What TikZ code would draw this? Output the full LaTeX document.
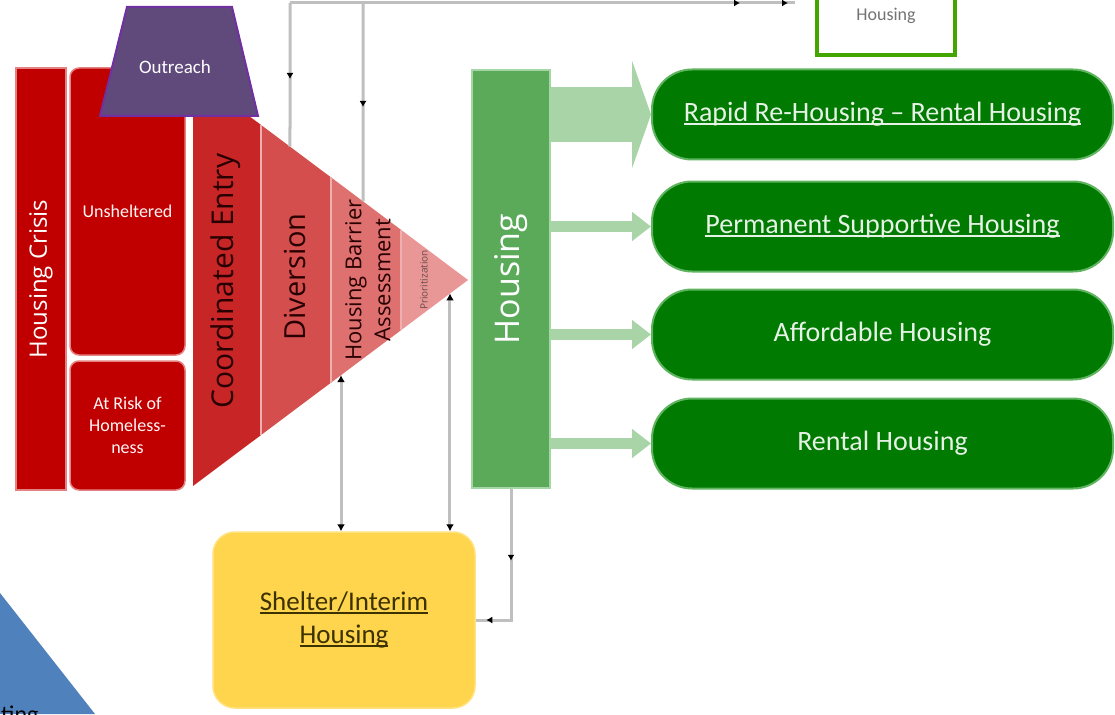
\documentclass[tikz,border=0pt]{standalone}
\usepackage{fontspec}
\setmainfont{Carlito}
\newfontfamily\osans{Open Sans}
\usetikzlibrary{arrows.meta,calc,decorations.markings}
\definecolor{cred}{RGB}{192,0,0}
\definecolor{credb}{RGB}{228,130,130}
\definecolor{ceband}{RGB}{200,38,38}
\definecolor{divband}{RGB}{212,78,78}
\definecolor{hbaband}{RGB}{222,112,112}
\definecolor{priband}{RGB}{233,150,150}
\definecolor{bandsep}{RGB}{240,175,175}
\definecolor{cpurple}{RGB}{96,74,123}
\definecolor{cpurpled}{RGB}{112,48,160}
\definecolor{hgreen}{RGB}{90,170,90}
\definecolor{hgreenb}{RGB}{165,214,165}
\definecolor{agreen}{RGB}{168,212,168}
\definecolor{pill}{RGB}{0,122,0}
\definecolor{pillb}{RGB}{95,180,95}
\definecolor{pilltext}{RGB}{230,242,230}
\definecolor{shel}{RGB}{255,213,77}
\definecolor{shelb}{RGB}{255,226,125}
\definecolor{sheltext}{RGB}{60,50,0}
\definecolor{clime}{RGB}{67,165,0}
\definecolor{cgray}{RGB}{191,191,191}
\definecolor{cblue}{RGB}{79,129,189}
\definecolor{bandtext}{RGB}{40,0,0}
\newcommand\myul[1]{\setbox0\hbox{#1}\rlap{\rule[-0.12em]{\wd0}{0.06em}}\box0}
\begin{document}
\begin{tikzpicture}[x=1pt,y=-1pt,
  conn/.style={draw=cgray, line width=3pt},
  midmark/.style={postaction={decorate,decoration={markings,
      mark=at position #1 with {\arrow{Latex[length=6pt,width=7pt,color=black]}}}}},
  dtip/.style={{Latex[length=7pt,width=8pt,color=black]}-{Latex[length=7pt,width=8pt,color=black]}},
  redbox/.style={fill=cred, draw=credb, line width=1.5pt, inner sep=0pt, rounded corners=9pt,
      text=white!85!pink, align=center, font=\fontsize{18}{22}\selectfont},
  bandlabel/.style={rotate=90, inner sep=0pt, text=bandtext, align=center},
  pillbox/.style={fill=pill, draw=pillb, line width=2pt, rounded corners=40pt,
      minimum width=461pt, minimum height=90pt, inner sep=0pt, text=pilltext,
      font=\fontsize{28}{34}\selectfont},
  garrow/.style={draw=agreen}
]
\useasboundingbox (0,0) rectangle (1115,714);
\fill[white] (0,0) rectangle (1115,714);

\begin{scope}
\clip (0,0) rectangle (1115,714);
\fill[cblue] (0,593) -- (95,714) -- (0,714) -- cycle;
\node[anchor=base west, inner sep=0pt, font=\fontsize{24}{28}\selectfont] (bluetxt) at (1,722) {ting};
\node[draw=clime, line width=4pt, fill=white, minimum width=138pt, minimum height=110pt] (tophouse) at (886,0) {};
\end{scope}
\node[text=black!55, font=\fontsize{18}{22}\selectfont, inner sep=0pt] (tophlabel) at (886,16) {Housing};

% left column
\node[fill=cred, draw=credb, line width=1.5pt, minimum width=50pt, minimum height=422pt, inner sep=0pt, text=white]
  (crisis) at (41,279) {\rotatebox{90}{\osans\fontsize{24}{28}\selectfont Housing Crisis}};
\node[redbox, minimum width=115pt, minimum height=287pt] (unshel) at (127.5,211.5) {Unsheltered};
\node[redbox, minimum width=115pt, minimum height=129pt] (atrisk) at (127.5,425.5) {At Risk of\\Homeless-\\ness};

% funnel triangle
\coordinate (apex) at (468,280);
\coordinate (bt) at (193,74);
\coordinate (bb) at (193,486);
\fill[ceband] (bt) -- ($(bt)!0.2473!(apex)$) -- ($(bb)!0.2473!(apex)$) -- (bb) -- cycle;
\fill[divband] ($(bt)!0.2473!(apex)$) -- ($(bt)!0.5018!(apex)$) -- ($(bb)!0.5018!(apex)$) -- ($(bb)!0.2473!(apex)$) -- cycle;
\fill[hbaband] ($(bt)!0.5018!(apex)$) -- ($(bt)!0.7564!(apex)$) -- ($(bb)!0.7564!(apex)$) -- ($(bb)!0.5018!(apex)$) -- cycle;
\fill[priband] ($(bt)!0.7564!(apex)$) -- (apex) -- ($(bb)!0.7564!(apex)$) -- cycle;
\foreach \f in {0.2473,0.5018,0.7564}
  \draw[bandsep, line width=1.5pt] ($(bt)!\f!(apex)$) -- ($(bb)!\f!(apex)$);

\node[bandlabel, font=\osans\fontsize{30}{36}\selectfont] (cetext) at (226,281) {Coordinated Entry};
\node[bandlabel, font=\osans\fontsize{29}{34}\selectfont] (divtext) at (295,277) {Diversion};
\node[bandlabel, font=\osans\fontsize{22}{29}\selectfont] (hbatext) at (368,280) {Housing Barrier\\Assessment};
\node[bandlabel, font=\osans\fontsize{10}{12}\selectfont, text=bandtext!70] (pritext) at (424,280) {Prioritization};

% outreach
\filldraw[fill=cpurple, draw=cpurpled, line width=2pt] (127,7) -- (232,7) -- (258,116) -- (100,116) -- cycle;
\node[text=white, font=\fontsize{19}{22}\selectfont, inner sep=0pt] (outreach) at (175,67) {Outreach};

% housing bar
\node[fill=hgreen, draw=hgreenb, line width=1.5pt, minimum width=78pt, minimum height=418pt, inner sep=0pt, text=white]
  (hbar) at (511,279) {\rotatebox{90}{\osans\fontsize{34}{40}\selectfont Housing}};

% pills
\node[pillbox] (rrh) at (882.5,114.5) {\myul{Rapid Re-Housing – Rental Housing}};
\node[pillbox] (psh) at (882.5,226.5) {\myul{Permanent Supportive Housing}};
\node[pillbox] (aff) at (882.5,334.5) {Affordable Housing};
\node[pillbox] (rent) at (882.5,443.5) {Rental Housing};

\draw[garrow, line width=55pt, -{Triangle[length=19pt,width=107pt]}] (hbar.east |- rrh.west) -- (rrh.west);
\draw[garrow, line width=11pt, -{Triangle[length=19pt,width=28pt]}] (hbar.east |- psh.west) -- (psh.west);
\draw[garrow, line width=11pt, -{Triangle[length=19pt,width=28pt]}] (hbar.east |- aff.west) -- (aff.west);
\draw[garrow, line width=11pt, -{Triangle[length=19pt,width=28pt]}] (hbar.east |- rent.west) -- (rent.west);

% shelter
\node[fill=shel, draw=shelb, line width=1.5pt, rounded corners=22pt, minimum width=262pt, minimum height=176pt,
  text=sheltext, align=center, font=\fontsize{27}{33}\selectfont] (shelter) at (344,620)
  {\myul{Shelter/Interim}\\\myul{Housing}};

% connectors
\coordinate (t1) at (290,3);
\coordinate (t2) at (363,3);
\coordinate (tend) at (795,3);
\coordinate (e1) at ($(bt)!0.3527!(apex)$);
\coordinate (e2) at ($(bt)!0.6182!(apex)$);
\coordinate (e3) at ($(bb)!0.5382!(apex)$);
\coordinate (e4) at ($(bb)!0.9345!(apex)$);
\draw[conn, midmark=450pt, midmark=498pt] (t1) -- (tend);
\draw[conn, midmark=76pt] (t1) -- (e1);
\draw[conn, midmark=104pt] (t2) -- (e2);
\draw[conn, dtip] (e3) -- (e3 |- shelter.north);
\draw[conn, dtip] (e4) -- (e4 |- shelter.north);
\draw[conn, midmark=72pt, midmark=156pt] (hbar.south) |- (shelter.east);
\end{tikzpicture}
\end{document}
